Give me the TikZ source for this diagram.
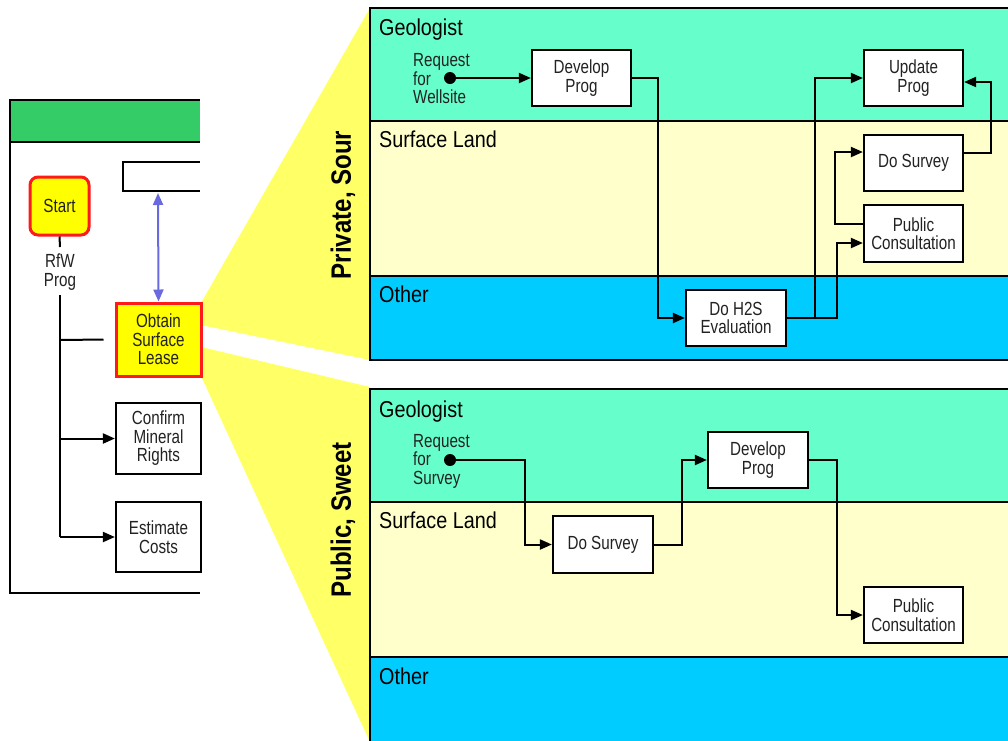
\documentclass[tikz,border=0pt]{standalone}
\usepackage{fontspec}
\setmainfont{Liberation Sans}[FakeStretch=0.86]
\newfontfamily\condfont{Liberation Sans}[FakeStretch=0.8]
\usetikzlibrary{arrows.meta}
\definecolor{geo}{HTML}{66FFCC}
\definecolor{surf}{HTML}{FFFFCC}
\definecolor{oth}{HTML}{00CCFF}
\definecolor{hdr}{HTML}{33CC66}
\definecolor{wedge}{HTML}{FFFF66}
\definecolor{boxyel}{HTML}{FFFF00}
\definecolor{boxred}{HTML}{FF1A1A}
\definecolor{bluearr}{HTML}{6A6AE0}
\definecolor{txt}{HTML}{222222}
\tikzset{
  boxtext/.style={font=\condfont\fontsize{19}{18.5}\selectfont, text=txt, align=center},
  stepbox/.style={draw=black, line width=2.2pt, fill=white, inner sep=0pt, boxtext},
  hotbox/.style={draw=boxred, line width=3pt, fill=boxyel, inner sep=0pt, boxtext},
  lanetitle/.style={font=\fontsize{23}{23}\selectfont, anchor=base west, inner sep=0pt},
  lane/.style={draw=black, line width=1.8pt},
  flow/.style={line width=2pt, -{Triangle[length=12pt,width=10pt]}},
  plain/.style={line width=2pt},
  sidetitle/.style={font=\fontsize{28}{28}\selectfont\bfseries, rotate=90, inner sep=0pt},
  reqtext/.style={font=\condfont\fontsize{19}{18.5}\selectfont, text=txt, align=left, anchor=west, inner sep=0pt},
  dotnode/.style={circle, fill=black, minimum size=12pt, inner sep=0pt}
}
\begin{document}
\begin{tikzpicture}[x=1pt,y=-1pt]
\useasboundingbox (0,0) rectangle (1008,740);
\fill[white] (0,0) rectangle (1008,740);

% wedges
\fill[wedge] (201,303) -- (370,8) -- (370,360) -- (201,325) -- cycle;
\fill[wedge] (201,347) -- (370,387) -- (370,742) -- (201,376) -- cycle;

% Private, Sour lanes
\filldraw[lane, fill=geo] (370,8) rectangle (1012,121);
\filldraw[lane, fill=surf] (370,121) rectangle (1012,276);
\filldraw[lane, fill=oth] (370,276) rectangle (1012,360);
% Public, Sweet lanes
\filldraw[lane, fill=geo] (370,389) rectangle (1012,502);
\filldraw[lane, fill=surf] (370,502) rectangle (1012,657);
\filldraw[lane, fill=oth] (370,657) rectangle (1012,745);

\node[lanetitle] (g1) at (379,35) {Geologist};
\node[lanetitle] (s1) at (379,147) {Surface Land};
\node[lanetitle] (o1) at (379,302) {Other};
\node[lanetitle] (g2) at (379,417) {Geologist};
\node[lanetitle] (s2) at (379,528) {Surface Land};
\node[lanetitle] (o2) at (379,684) {Other};

\node[sidetitle] (ps) at (343,205) {Private, Sour};
\node[sidetitle] (pw) at (343,520) {Public, Sweet};

% Private, Sour process
\node[reqtext] (rq1) at (413,79) {Request\\for\\Wellsite};
\node[dotnode] (dot1) at (450,78) {};
\node[stepbox, minimum width=99pt, minimum height=56pt] (dev1) at (581.5,78) {Develop\\Prog};
\node[stepbox, minimum width=100pt, minimum height=56pt] (h2s) at (736,318) {Do H2S\\Evaluation};
\node[stepbox, minimum width=99pt, minimum height=56pt] (upd) at (913.5,78) {Update\\Prog};
\node[stepbox, minimum width=99pt, minimum height=56pt] (sur1) at (913.5,163) {Do Survey};
\node[stepbox, minimum width=99pt, minimum height=57pt] (pc1) at (913.5,233.5) {Public\\Consultation};

\draw[flow] (dot1) -- (dev1.west);
\draw[flow] (dev1.east) -- ++(26,0) |- (h2s.west);
\draw[flow] (h2s.east) -- ++(28,0) |- (upd.west);
\draw[flow] (h2s.east) -- ++(50,0) |- ([yshift=-9.5pt]pc1.west);
\draw[flow] ([yshift=9.5pt]pc1.west) -- ++(-28,0) |- ([yshift=11pt]sur1.west);
\draw[flow] ([yshift=10pt]sur1.east) -- ++(27,0) |- ([yshift=-4pt]upd.east);

% Public, Sweet process
\node[reqtext] (rq2) at (413,461) {Request\\for\\Survey};
\node[dotnode] (dot2) at (450,460) {};
\node[stepbox, minimum width=100pt, minimum height=57pt] (sur2) at (603,544.5) {Do Survey};
\node[stepbox, minimum width=100pt, minimum height=56pt] (dev2) at (758,460) {Develop\\Prog};
\node[stepbox, minimum width=99pt, minimum height=56pt] (pc2) at (913.5,615) {Public\\Consultation};

\draw[flow] (dot2) -- ++(75,0) |- (sur2.west);
\draw[flow] (sur2.east) -- ++(28,0) |- (dev2.west);
\draw[flow] (dev2.east) -- ++(28,0) |- (pc2.west);

% Left panel
\fill[hdr] (10,100) rectangle (200,142);
\draw[plain] (200,100) -- (10,100) -- (10,593) -- (200,593);
\draw[plain] (10,142) -- (200,142);
\draw[line width=2.2pt] (200,162) -- (123,162) -- (123,191) -- (200,191);
\coordinate (topbox) at (158,193);

\node[hotbox, rounded corners=8pt, minimum width=59pt, minimum height=58pt] (start) at (59.5,206) {Start};
\node[boxtext, inner sep=0pt] (rfw) at (60,272) {RfW\\Prog};
\node[hotbox, minimum width=85pt, minimum height=73pt] (obtain) at (158.5,339.5) {Obtain\\Surface\\Lease};
\node[stepbox, minimum width=85pt, minimum height=71pt] (confirm) at (158.5,438.5) {Confirm\\Mineral\\Rights};
\node[stepbox, minimum width=85pt, minimum height=70pt] (estimate) at (158.5,537) {Estimate\\Costs};

\draw[plain] (start.south) -- (60,247);
\coordinate (trunktop) at (60,295);
\coordinate (trunkbot) at (60,537);
\draw[plain] (trunktop) -- (trunkbot);
\draw[flow] (trunkbot) -- (estimate.west);
\draw[flow] (60,438.5) -- (confirm.west);
\draw[plain] (60,340) -- ([xshift=-11pt]obtain.west);
\draw[line width=2pt, bluearr, {Triangle[length=12pt,width=10pt]}-{Triangle[length=12pt,width=10pt]}] (topbox) -- (obtain.north);
\end{tikzpicture}
\end{document}
